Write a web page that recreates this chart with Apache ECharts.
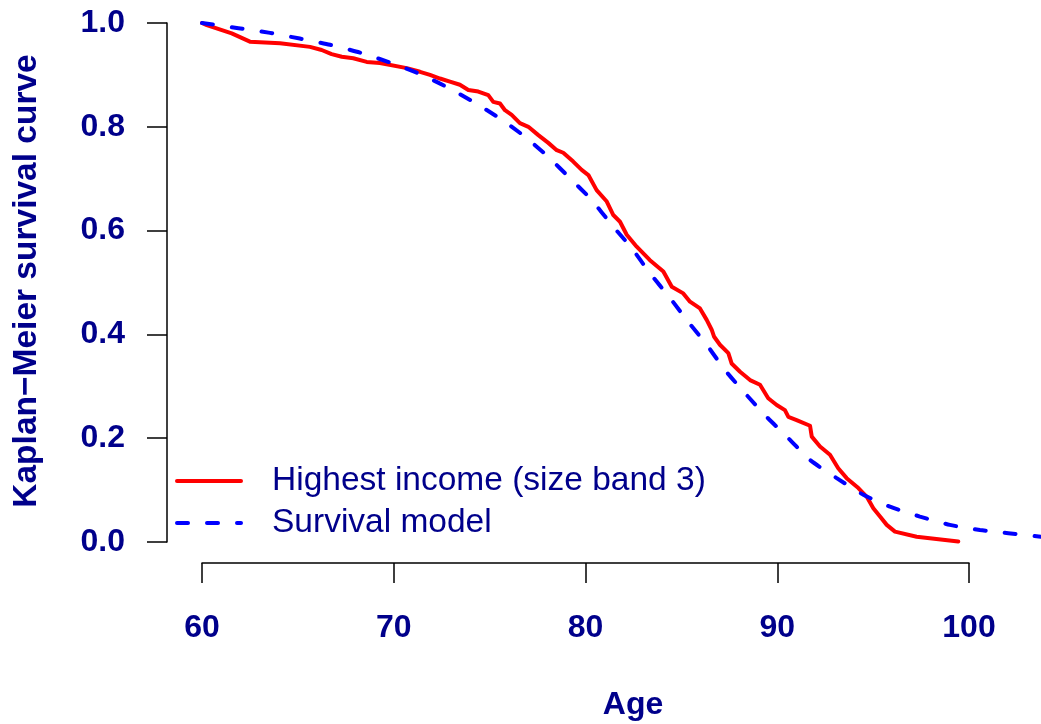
<!DOCTYPE html>
<html>
<head>
<meta charset="utf-8">
<script src="https://cdn.jsdelivr.net/npm/echarts@6/dist/echarts.min.js"></script>
<style>
html,body{margin:0;padding:0;background:#fff;}
#c{width:1041px;height:724px;}
</style>
</head>
<body>
<div id="c"></div>
<script>
// Kaplan-Meier curve, highest income (size band 3)
const kmAge = [60, 60.25, 61.55, 62.5, 64.07, 65.63, 66.24, 66.76, 67.29, 67.89, 68.59, 69.28, 70.68, 71.37, 71.89, 72.41, 72.93, 73.45, 73.89, 74.41, 74.93, 75.19, 75.54, 75.80, 76.15, 76.58, 77.02, 77.54, 78.06, 78.50, 78.84, 79.36, 79.80, 80.15, 80.58, 81.11, 81.45, 81.80, 82.15, 82.67, 83.36, 84.06, 84.50, 85.10, 85.45, 85.97, 86.32, 86.58, 86.70, 87.01, 87.45, 87.62, 88.06, 88.58, 89.10, 89.53, 89.97, 90.40, 90.58, 91.01, 91.71, 91.80, 92.23, 92.75, 93.18, 93.62, 94.23, 94.67, 95.01, 95.36, 95.71, 96.14, 97.27, 99.44];
const kmSurv = [1.0, 0.996, 0.980, 0.964, 0.961, 0.954, 0.948, 0.940, 0.935, 0.932, 0.925, 0.923, 0.913, 0.906, 0.900, 0.893, 0.887, 0.881, 0.871, 0.868, 0.861, 0.848, 0.845, 0.832, 0.823, 0.807, 0.800, 0.784, 0.769, 0.755, 0.750, 0.733, 0.717, 0.707, 0.678, 0.656, 0.630, 0.617, 0.592, 0.569, 0.543, 0.521, 0.492, 0.479, 0.463, 0.450, 0.428, 0.409, 0.396, 0.380, 0.364, 0.344, 0.328, 0.312, 0.303, 0.277, 0.264, 0.254, 0.241, 0.235, 0.224, 0.203, 0.184, 0.168, 0.142, 0.123, 0.104, 0.087, 0.065, 0.049, 0.033, 0.020, 0.010, 0.001];

// Survival model
const modelAge = [60, 61.9, 63.55, 65.1, 66.68, 68.24, 69.8, 71.28, 72.7, 74.15, 75.54, 76.84, 78.06, 79.19, 80.32, 81.37, 82.41, 83.36, 84.41, 85.36, 86.32, 87.28, 88.41, 89.45, 90.58, 91.71, 93.1, 94.49, 95.88, 97.44, 99.0, 100.57, 102.05, 103.75];
const modelSurv = [1.0, 0.990, 0.981, 0.970, 0.958, 0.943, 0.924, 0.903, 0.878, 0.848, 0.816, 0.781, 0.742, 0.701, 0.659, 0.611, 0.566, 0.518, 0.470, 0.424, 0.380, 0.331, 0.283, 0.241, 0.200, 0.158, 0.123, 0.091, 0.068, 0.049, 0.033, 0.023, 0.017, 0.010];

// Axis ticks
const xTickMin = 60, xTickMax = 100, xTickStep = 10;
const yTickMin = 0, yTickMax = 1, yTickStep = 0.2;

const seriesNames = ['Highest income (size band 3)', 'Survival model'];
const xTitle = 'Age';
const yTitle = 'Kaplan\u2212Meier survival curve';

const navy = '#00008B';
const FONT = '"Liberation Sans", Arial, sans-serif';
const dashPattern = [11, 19];

// data area extends to the right edge of the picture at the same scale as the drawn axis
const plotLeft = 202, axisRightPx = 969, W = 1041;
const pxPerYear = (axisRightPx - plotLeft) / (xTickMax - xTickMin);
const dataXMax = xTickMin + (W - plotLeft) / pxPerYear;

const chart = echarts.init(document.getElementById('c'), null, {renderer: 'canvas'});
chart.setOption({
  animation: false,
  backgroundColor: '#ffffff',
  grid: [
    {left: plotLeft, right: 0, top: 23, bottom: 182, containLabel: false},
    {left: plotLeft, right: W - axisRightPx, top: 23, bottom: 182, containLabel: false}
  ],
  xAxis: [
    {gridIndex: 0, type: 'value', min: xTickMin, max: dataXMax, show: false},
    {
      gridIndex: 1, type: 'value', min: xTickMin, max: xTickMax, interval: xTickStep, offset: 21,
      axisLine: {show: true, onZero: false, lineStyle: {color: '#000', width: 1.5}},
      axisTick: {show: true, inside: false, length: 20, lineStyle: {color: '#000', width: 1.5}},
      splitLine: {show: false},
      axisLabel: {margin: 49, color: navy, fontFamily: FONT, fontWeight: 'bold', fontSize: 32}
    }
  ],
  yAxis: [
    {gridIndex: 0, type: 'value', min: yTickMin, max: yTickMax, show: false},
    {
      gridIndex: 1, type: 'value', min: yTickMin, max: yTickMax, interval: yTickStep, offset: 35,
      axisLine: {show: true, onZero: false, lineStyle: {color: '#000', width: 1.5}},
      axisTick: {show: true, inside: false, length: 20, lineStyle: {color: '#000', width: 1.5}},
      splitLine: {show: false},
      axisLabel: {margin: 42, color: navy, fontFamily: FONT, fontWeight: 'bold', fontSize: 32,
        formatter: v => v.toFixed(1)}
    }
  ],
  legend: {
    orient: 'vertical', left: 175, top: 460, padding: 0, itemGap: 0,
    itemWidth: 64, itemHeight: 14,
    data: [
      {name: seriesNames[0]},
      {name: seriesNames[1], lineStyle: {type: dashPattern}}
    ],
    itemStyle: {opacity: 0},
    lineStyle: {width: 4, cap: 'round'},
    textStyle: {color: navy, fontFamily: FONT, fontSize: 33.5, lineHeight: 42, padding: [0, 0, 0, 26]}
  },
  graphic: [
    {type: 'text', x: 633, y: 705, style: {text: xTitle, fill: navy, font: 'bold 32px ' + FONT, textAlign: 'center', textVerticalAlign: 'middle'}},
    {type: 'text', x: 27, y: 281, rotation: Math.PI / 2, style: {text: yTitle, fill: navy, font: 'bold 33.5px ' + FONT, textAlign: 'center', textVerticalAlign: 'middle'}}
  ],
  series: [
    {
      name: seriesNames[0], type: 'line', xAxisIndex: 0, yAxisIndex: 0,
      showSymbol: false, symbol: 'none', clip: false,
      data: kmAge.map((a, i) => [a, kmSurv[i]]),
      lineStyle: {color: '#FF0000', width: 4, join: 'round', cap: 'round'},
      itemStyle: {color: '#FF0000'}
    },
    {
      name: seriesNames[1], type: 'line', xAxisIndex: 0, yAxisIndex: 0,
      showSymbol: false, symbol: 'none', clip: false, smooth: 0.2,
      data: modelAge.map((a, i) => [a, modelSurv[i]]),
      lineStyle: {color: '#0000FF', width: 4, type: dashPattern, cap: 'round'},
      itemStyle: {color: '#0000FF'}
    }
  ]
});
</script>
</body>
</html>
